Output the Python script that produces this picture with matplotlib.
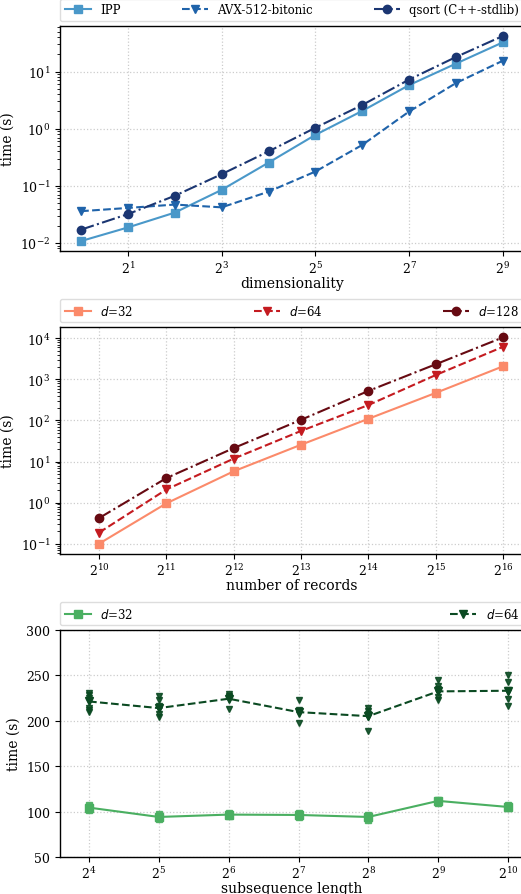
import math

import matplotlib

matplotlib.use("Agg")
import matplotlib.pyplot as plt
import matplotlib.ticker as mticker

# --- panel 1: time vs dimensionality ---
DIMS = [1, 2, 4, 8, 16, 32, 64, 128, 256, 512]
T_IPP = [0.0108, 0.0187, 0.034, 0.085, 0.255, 0.78, 2.05, 5.8, 13.8, 32.5]
T_AVX = [0.036, 0.041, 0.047, 0.042, 0.079, 0.178, 0.52, 2.0, 6.3, 15.5]
T_QSORT = [0.0171, 0.032, 0.067, 0.16, 0.40, 1.04, 2.6, 7.25, 18.0, 42.0]

# --- panel 2: time vs number of records ---
RECORDS = [2**10, 2**11, 2**12, 2**13, 2**14, 2**15, 2**16]
T_D32 = [0.1, 0.96, 5.8, 25.7, 110, 470, 2090]
T_D64 = [0.186, 2.09, 11.8, 55.7, 238, 1280, 6240]
T_D128 = [0.42, 3.96, 21.3, 104, 525, 2340, 10600]

# --- panel 3: time vs subsequence length (individual runs + mean) ---
SUBSEQ = [2**4, 2**5, 2**6, 2**7, 2**8, 2**9, 2**10]
RUNS_D32 = [
    [107, 105, 104, 102],
    [97, 95, 93, 92],
    [98, 97, 96, 95],
    [98, 97, 96, 94],
    [96, 95, 93, 91],
    [113, 112, 111, 110],
    [107, 106, 105, 104],
]
MEAN_D32 = [104.4, 94.1, 96.7, 96.3, 94.1, 111.8, 105.1]
RUNS_D64 = [
    [231, 228, 225, 222, 214, 212, 210],
    [227, 223, 216, 213, 207, 204],
    [229, 227, 226, 224, 213],
    [223, 212, 210, 208, 198],
    [214, 211, 208, 205, 204, 189],
    [245, 238, 235, 232, 226, 223],
    [250, 243, 234, 232, 224, 216],
]
MEAN_D64 = [221.3, 214.0, 224.3, 209.6, 205.1, 232.4, 233.1]

C_IPP, C_AVX, C_QS = "#4a98c9", "#1f63aa", "#1b3672"
C_R1, C_R2, C_R3 = "#fb8a6a", "#c41b20", "#670a12"
C_G1, C_G2 = "#4aaf61", "#0b4a22"

plt.rcParams.update({
    "font.family": "DejaVu Serif",
    "font.size": 9,
    "xtick.labelsize": 9,
    "ytick.labelsize": 9,
    "xtick.major.pad": 2.5,
    "axes.labelsize": 10,
    "legend.fontsize": 8.5,
    "axes.linewidth": 1.0,
    "grid.color": "#cccccc",
    "grid.linestyle": ":",
    "grid.linewidth": 0.9,
})

fig = plt.figure(figsize=(5.21, 8.95), dpi=100)
L, W = 60 / 521, 464 / 521
ax1 = fig.add_axes([L, (895 - 252.3) / 895, W, 225.6 / 895])
ax2 = fig.add_axes([L, (895 - 555) / 895, W, 227 / 895])
ax3 = fig.add_axes([L, (895 - 858) / 895, W, 227 / 895])


def pow2_fmt(x, pos):
    return r"$\mathdefault{2^{%d}}$" % round(math.log2(x))


def legend_top(ax, ncol):
    ax.legend(loc="lower left", bbox_to_anchor=(0, 1.02, 1, 0.1), mode="expand",
              ncol=ncol, borderaxespad=0, handlelength=2.2, edgecolor="#dddddd",
              framealpha=1.0)


# panel 1
ax1.plot(DIMS, T_IPP, "-", marker="s", color=C_IPP, lw=1.5, ms=6, label="IPP")
ax1.plot(DIMS, T_AVX, "--", marker="v", color=C_AVX, lw=1.5, ms=6, label="AVX-512-bitonic")
ax1.plot(DIMS, T_QSORT, "-.", marker="o", color=C_QS, lw=1.5, ms=6, label="qsort (C++-stdlib)")
ax1.set_xscale("log", base=2)
ax1.set_yscale("log")
ax1.set_xticks([2, 8, 32, 128, 512])
ax1.xaxis.set_minor_locator(mticker.NullLocator())
ax1.xaxis.set_major_formatter(mticker.FuncFormatter(pow2_fmt))
ax1.set_xlabel("dimensionality", labelpad=0)
ax1.set_ylabel("time (s)")
legend_top(ax1, 3)

# panel 2
ax2.plot(RECORDS, T_D32, "-", marker="s", color=C_R1, lw=1.5, ms=6, label=r"$d$=32")
ax2.plot(RECORDS, T_D64, "--", marker="v", color=C_R2, lw=1.5, ms=6, label=r"$d$=64")
ax2.plot(RECORDS, T_D128, "-.", marker="o", color=C_R3, lw=1.5, ms=6, label=r"$d$=128")
ax2.set_xscale("log", base=2)
ax2.set_yscale("log")
ax2.set_xlim(2**9.42, 2**16.31)
ax2.set_xticks(RECORDS)
ax2.xaxis.set_minor_locator(mticker.NullLocator())
ax2.xaxis.set_major_formatter(mticker.FuncFormatter(pow2_fmt))
ax2.set_xlabel("number of records", labelpad=0)
ax2.set_ylabel("time (s)")
legend_top(ax2, 3)

# panel 3
for x, runs in zip(SUBSEQ, RUNS_D32):
    ax3.plot([x] * len(runs), runs, "s", color=C_G1, ms=5, alpha=0.9)
for x, runs in zip(SUBSEQ, RUNS_D64):
    ax3.plot([x] * len(runs), runs, "v", color=C_G2, ms=4.5, alpha=0.9)
ax3.plot(SUBSEQ, MEAN_D32, "-", marker="s", color=C_G1, lw=1.5, ms=6, label=r"$d$=32")
ax3.plot(SUBSEQ, MEAN_D64, "--", marker="v", color=C_G2, lw=1.5, ms=6, label=r"$d$=64")
ax3.set_xscale("log", base=2)
ax3.set_xlim(12, 1200)
ax3.set_ylim(50, 300)
ax3.set_xticks(SUBSEQ)
ax3.xaxis.set_minor_locator(mticker.NullLocator())
ax3.xaxis.set_major_formatter(mticker.FuncFormatter(pow2_fmt))
ax3.set_xlabel("subsequence length", labelpad=0)
ax3.set_ylabel("time (s)")
legend_top(ax3, 2)

for ax in (ax1, ax2, ax3):
    ax.grid(True, which="major")
    ax.set_axisbelow(True)

fig.savefig("out.png", dpi=100)
